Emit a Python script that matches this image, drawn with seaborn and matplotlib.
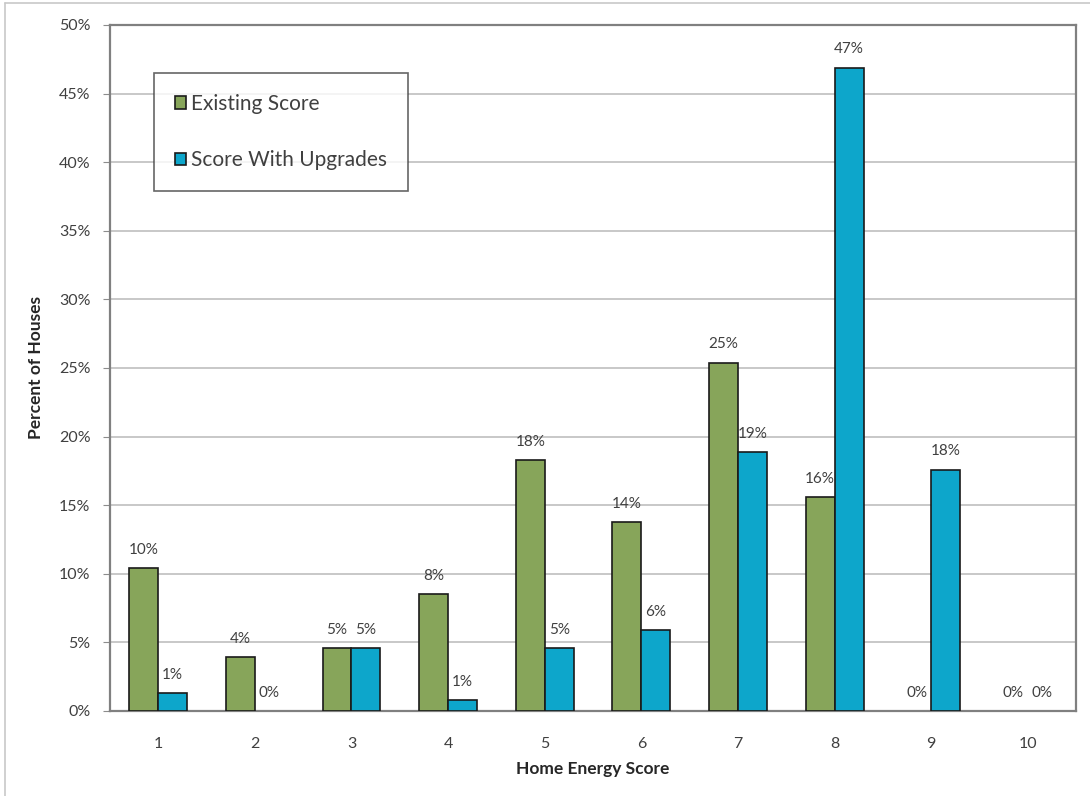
import numpy as np
import pandas as pd
import matplotlib
matplotlib.use("Agg")
import matplotlib.pyplot as plt
import seaborn as sns
from matplotlib.lines import Line2D

# Share of houses in each Home Energy Score bin (percent)
scores = ["1", "2", "3", "4", "5", "6", "7", "8", "9", "10"]
existing = [10.4, 3.9, 4.6, 8.5, 18.3, 13.8, 25.4, 15.6, 0.0, 0.0]
upgraded = [1.3, 0.0, 4.6, 0.8, 4.6, 5.9, 18.9, 46.9, 17.6, 0.0]
series_names = ["Existing Score", "Score With Upgrades"]
y_ticks = [0, 5, 10, 15, 20, 25, 30, 35, 40, 45, 50]

df = pd.DataFrame({
    "score": scores * 2,
    "pct": existing + upgraded,
    "series": [series_names[0]] * len(scores) + [series_names[1]] * len(scores),
})

sns.set_style("white")
plt.rcParams["font.family"] = ["Lato", "DejaVu Sans"]

fig = plt.figure(figsize=(10.9, 7.96), dpi=100)
ax = fig.add_axes([0.1009, 0.1068, 0.8863, 0.8618])

palette = {series_names[0]: "#87A55A", series_names[1]: "#0DA6CB"}
sns.barplot(data=df, x="score", y="pct", hue="series", order=scores,
            hue_order=series_names, palette=palette, width=0.6,
            edgecolor="#1a1a1a", linewidth=1.2, saturation=1,
            ax=ax, zorder=3, legend=True)

for bars in ax.containers:
    for p in bars:
        if p.get_height() == 0:
            p.set_linewidth(0)
    ax.bar_label(bars, labels=[f"{v:.0f}%" for v in bars.datavalues],
                 padding=8, fontsize=11, color="#404040")

ax.set_ylim(0, 50)
ax.set_yticks(y_ticks)
ax.set_yticklabels([f"{t}%" for t in y_ticks], fontsize=11.5, color="#404040")
ax.set_xlim(-0.5, len(scores) - 0.5)
ax.tick_params(axis="x", length=0, labelsize=11.5, labelcolor="#404040", pad=19)
ax.set_xticks(np.arange(-0.5, len(scores), 1.0), minor=True)
ax.tick_params(axis="x", which="minor", length=5, color="#8c8c8c", direction="out")
ax.tick_params(axis="y", length=5, color="#8c8c8c", direction="out", pad=9, left=True)

ax.yaxis.grid(True, color="#c4c4c4", linewidth=1.3, zorder=0)
ax.set_axisbelow(True)
for side in ["left", "bottom", "top", "right"]:
    ax.spines[side].set_visible(True)
    ax.spines[side].set_color("#808080")
    ax.spines[side].set_linewidth(1.6)

ax.set_xlabel("Home Energy Score", fontsize=12.5, fontweight="bold", labelpad=7,
              color="#262626")
ax.set_ylabel("Percent of Houses", fontsize=12.5, fontweight="bold", labelpad=11,
              color="#262626")

leg = ax.legend(loc="upper left", bbox_to_anchor=(0.0455, 0.930), frameon=True,
                fancybox=False, fontsize=15, labelspacing=1.75, handlelength=0.55,
                handleheight=0.55, handletextpad=0.25, borderpad=1.0,
                borderaxespad=0, title=None)
leg.get_frame().set_edgecolor("#404040")
leg.get_frame().set_linewidth(1.2)
for t in leg.get_texts():
    t.set_color("#404040")
leg.set_zorder(5)

# light outer frame (top and left edges of the chart area)
fig.add_artist(Line2D([5 / 1090, 5 / 1090], [0, 1 - 3 / 796], transform=fig.transFigure,
                      color="#c8c8c8", linewidth=1.2))
fig.add_artist(Line2D([5 / 1090, 1], [1 - 3 / 796, 1 - 3 / 796], transform=fig.transFigure,
                      color="#c8c8c8", linewidth=1.2))

fig.savefig("out.png", dpi=100)
